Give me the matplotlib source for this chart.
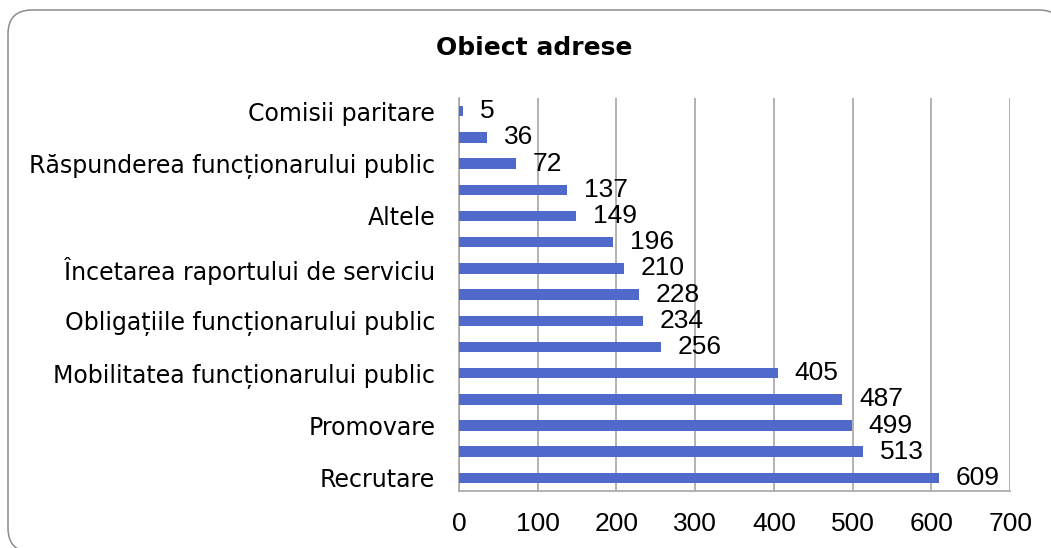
import matplotlib
matplotlib.use("Agg")
import matplotlib.pyplot as plt
from matplotlib.patches import FancyBboxPatch

# Data (top to bottom)
labels = ["Comisii paritare", "", "Răspunderea funcționarului public", "",
          "Altele", "", "Încetarea raportului de serviciu", "",
          "Obligațiile funcționarului public", "", "Mobilitatea funcționarului public", "",
          "Promovare", "", "Recrutare"]
values = [5, 36, 72, 137, 149, 196, 210, 228, 234, 256, 405, 487, 499, 513, 609]
xticks = [0, 100, 200, 300, 400, 500, 600, 700]

W, H = 1051, 548
fig = plt.figure(figsize=(W / 100, H / 100), dpi=100)
ax = fig.add_axes([0.4367, 0.104, 0.5245, 0.717])
ax.set_zorder(2)

n = len(values)
ypos = list(range(n))[::-1]
ax.barh(ypos, values, height=0.4, color="#4F6ACB", zorder=3)
ax.set_ylim(-0.5, n - 0.5)
ax.set_xlim(0, 700)
ax.set_xticks(xticks)
ax.set_xticklabels([str(t) for t in xticks], fontfamily="Liberation Sans", fontsize=19)
ax.tick_params(axis="x", length=0, pad=15)
ax.set_yticks(ypos)
ax.set_yticklabels(labels, fontfamily="DejaVu Sans", fontsize=17)
ax.tick_params(axis="y", length=0, pad=17)

ax.grid(axis="x", color="#A6A6A6", linewidth=1.2, zorder=0)
for s in ["top", "right"]:
    ax.spines[s].set_visible(False)
ax.spines["left"].set_color("#A6A6A6")
ax.spines["bottom"].set_color("#A6A6A6")
ax.spines["left"].set_linewidth(1.2)
ax.spines["bottom"].set_linewidth(1.2)

for y, v in zip(ypos, values):
    ax.annotate(str(v), (v, y), xytext=(12, 0), textcoords="offset points",
                ha="left", va="center", fontfamily="Liberation Sans", fontsize=19,
                zorder=4)

fig.text(0.5086, 0.912, "Obiect adrese", ha="center", va="center",
         fontfamily="DejaVu Sans", fontweight="bold", fontsize=18, zorder=5)

r = 24 / W
border = FancyBboxPatch((8 / W, -4 / H), 1055 / W, 542 / H,
                        boxstyle=f"round,pad=0,rounding_size={r}",
                        mutation_aspect=W / H,
                        transform=fig.transFigure, fill=True, facecolor="white",
                        edgecolor="#8C8C8C", linewidth=1.1, zorder=0)
fig.patches.append(border)

fig.savefig("out.png", dpi=100)
